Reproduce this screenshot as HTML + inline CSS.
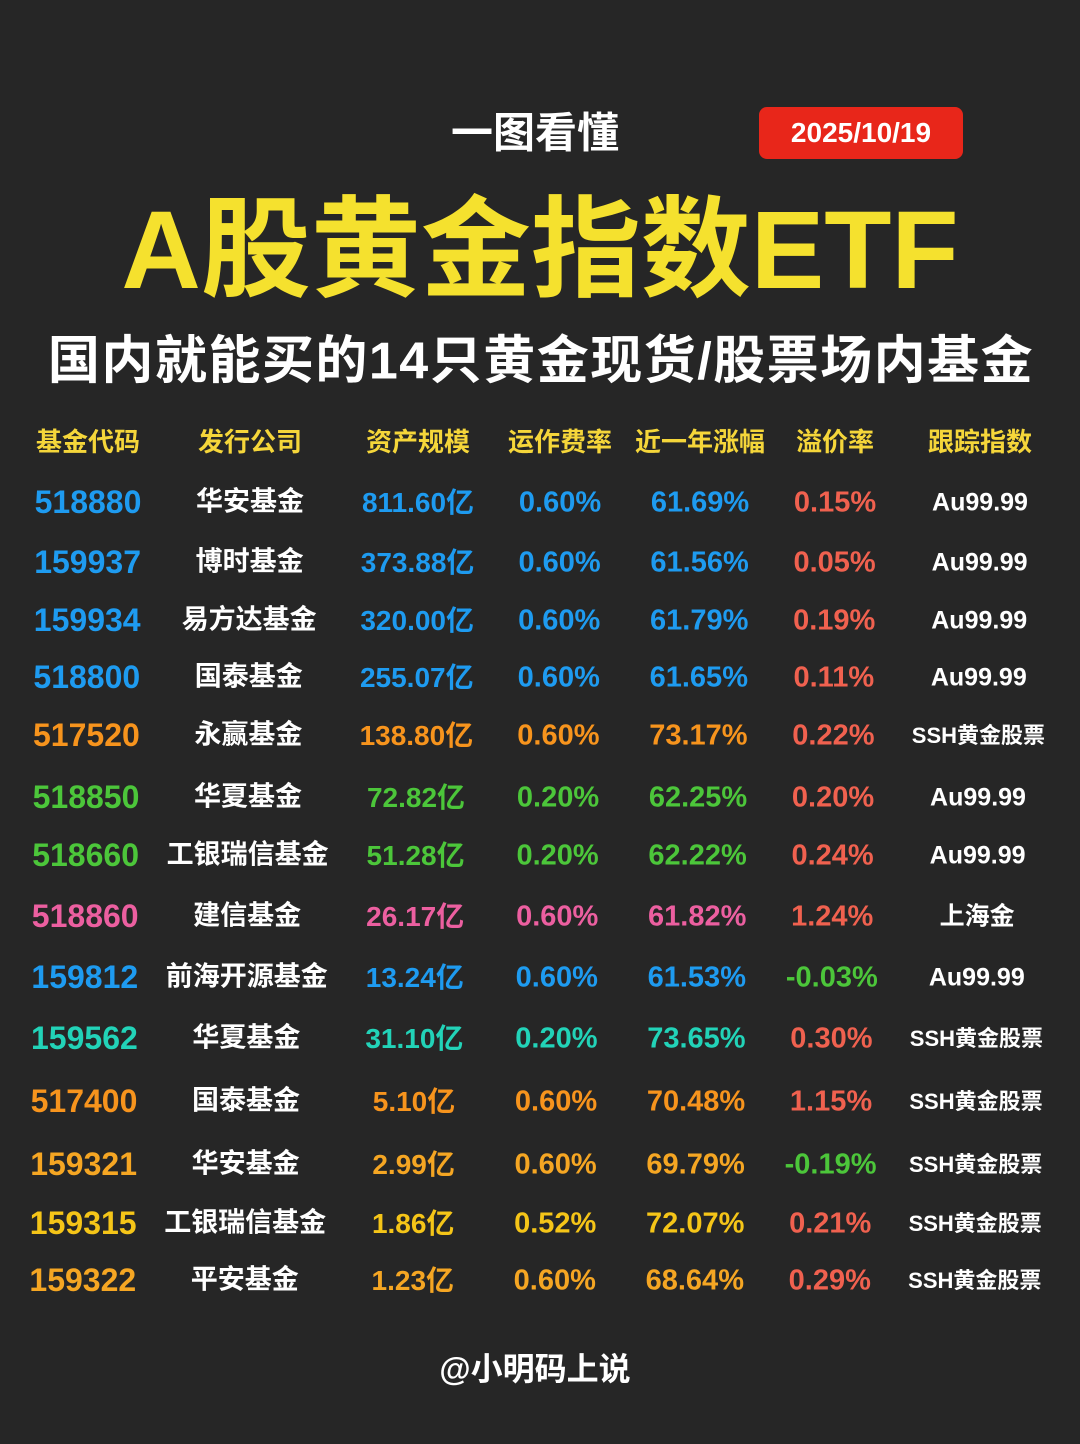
<!DOCTYPE html>
<html><head><meta charset="utf-8">
<style>
body{margin:0;width:1080px;height:1444px;background:#262626;overflow:hidden;position:relative;font-family:"Liberation Sans","Noto Sans CJK SC",sans-serif;font-weight:bold}
.t{position:absolute;white-space:nowrap;transform:translate(-50%,-50%)}
</style></head><body>
<div class="t" style="left:535px;top:130px;font-size:42px;color:#fff">一图看懂</div>
<div style="position:absolute;left:759px;top:107px;width:204px;height:52px;background:#e8261a;border-radius:8px;color:#fff;font-size:28px;line-height:52px;text-align:center">2025/10/19</div>
<div class="t" style="left:540px;top:240px;font-size:110px;color:#f5e12e;letter-spacing:0px">A股黄金指数ETF</div>
<div class="t" style="left:541px;top:356px;font-size:52px;color:#fff;letter-spacing:1.5px">国内就能买的14只黄金现货/股票场内基金</div>
<div id="tbl"></div>
<div class="t" style="left:535px;top:1367px;font-size:32px;color:#fff">@小明码上说</div>
<script>
const headers=["基金代码","发行公司","资产规模","运作费率","近一年涨幅","溢价率","跟踪指数"];
const codes=["518880","159937","159934","518800","517520","518850","518660","518860","159812","159562","517400","159321","159315","159322"];
const companies=["华安基金","博时基金","易方达基金","国泰基金","永赢基金","华夏基金","工银瑞信基金","建信基金","前海开源基金","华夏基金","国泰基金","华安基金","工银瑞信基金","平安基金"];
const assets=["811.60亿","373.88亿","320.00亿","255.07亿","138.80亿","72.82亿","51.28亿","26.17亿","13.24亿","31.10亿","5.10亿","2.99亿","1.86亿","1.23亿"];
const fees=["0.60%","0.60%","0.60%","0.60%","0.60%","0.20%","0.20%","0.60%","0.60%","0.20%","0.60%","0.60%","0.52%","0.60%"];
const changes=["61.69%","61.56%","61.79%","61.65%","73.17%","62.25%","62.22%","61.82%","61.53%","73.65%","70.48%","69.79%","72.07%","68.64%"];
const premiums=["0.15%","0.05%","0.19%","0.11%","0.22%","0.20%","0.24%","1.24%","-0.03%","0.30%","1.15%","-0.19%","0.21%","0.29%"];
const indices=["Au99.99","Au99.99","Au99.99","Au99.99","SSH黄金股票","Au99.99","Au99.99","上海金","Au99.99","SSH黄金股票","SSH黄金股票","SSH黄金股票","SSH黄金股票","SSH黄金股票"];
const rowColors=["#1e9bf0","#1e9bf0","#1e9bf0","#1e9bf0","#f7941d","#4cc63a","#4cc63a","#ec5fa0","#1e9bf0","#22d3b8","#f7941d","#f5a623","#f5c518","#f5a623"];
const colX=[88,250,418,560,700,835,980];
const rowY=[502,562,620,677,735,797,855,916,977,1038,1101,1164,1223,1280];
const tbl=document.getElementById('tbl');
function cell(txt,x,y,size,color,name){
  const d=document.createElement('div');
  d.className='t';d.textContent=txt;
  d.style.left=x+'px';d.style.top=y+'px';d.style.fontSize=size+'px';d.style.color=color;
  d.style.lineHeight='1';
  
  
  tbl.appendChild(d);
}
headers.forEach((h,i)=>cell(h,colX[i],442,26,"#f5d63a","header-"+i));
codes.forEach((c,r)=>{
  const y=rowY[r],dx=-r*0.4,col=rowColors[r];
  cell(c,colX[0]+dx,y,32,col,"fund-code");
  cell(companies[r],colX[1]+dx,y,27,"#fff","fund-company");
  cell(assets[r],colX[2]+dx,y+1,28,col,"asset-size");
  cell(fees[r],colX[3]+dx,y+1,29,col,"fee-rate");
  cell(changes[r],colX[4]+dx,y+1,29,col,"one-year-change");
  const p=premiums[r];
  cell(p,colX[5]+dx,y+1,29,p.startsWith('-')?"#4cc63a":"#f0614f","premium-rate");
  const idx=indices[r];
  cell(idx,colX[6]+dx,y+1,idx.startsWith('SSH')?22:25,"#fff","tracking-index");
});
</script>
</body></html>
